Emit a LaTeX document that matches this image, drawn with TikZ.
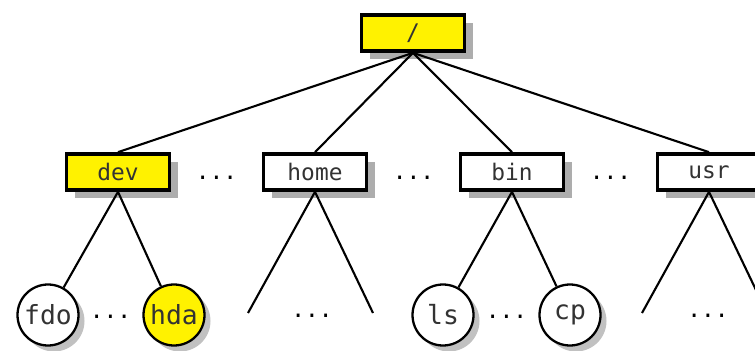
\documentclass[tikz,border=0pt]{standalone}
\usepackage{fontspec}
\setmonofont{DejaVu Sans Mono}
\usetikzlibrary{positioning,shadows}

\begin{document}
\begin{tikzpicture}[node distance = 3.94cm, on grid, font=\ttfamily\fontsize{13}{15}\selectfont,
	dir/.style={draw, line width=2.1pt, minimum width=2.06cm, minimum height=0.72cm, fill=white, text=black!80,
		drop shadow={shadow xshift=0.16cm, shadow yshift=-0.16cm, fill=black!40, opacity=0.8}},
	file/.style={circle, draw, line width=1.3pt, minimum size=1.22cm, inner sep=0pt, fill=white, text=black!80,
		font=\ttfamily\fontsize{15}{17}\selectfont,
		drop shadow={shadow xshift=0.12cm, shadow yshift=-0.12cm, fill=black!35, opacity=0.7}},
	hilite/.style={fill=yellow},
	link/.style={line width=1.2pt},
	more/.style={inner sep=0pt}]
	\useasboundingbox (0,0) rectangle (15.1,-7.02);

	% directories
	\node[dir, hilite] (root) at (8.26,-0.66) {/};
	\node[dir, hilite, below left = 2.78cm and 5.9cm of root] (dev) {dev};
	\node[dir, right of = dev] (home) {home};
	\node[dir, right of = home] (bin) {bin};
	\node[dir, right of = bin] (usr) {usr};

	\node[more, right = 1.97cm of dev, yshift=-0.12cm] (d1) {...};
	\node[more, right = 1.97cm of home, yshift=-0.12cm] (d2) {...};
	\node[more, right = 1.97cm of bin, yshift=-0.12cm] (d3) {...};

	% files
	\node[file, below left = 2.86cm and 1.4cm of dev] (fdo) {fdo};
	\node[file, hilite, below right = 2.86cm and 1.12cm of dev] (hda) {hda};
	\node[file, below left = 2.86cm and 1.38cm of bin] (ls) {ls};
	\node[file, below right = 2.86cm and 1.16cm of bin] (cp) {cp};

	\coordinate[below left = 2.82cm and 1.34cm of home] (homeL);
	\coordinate[below right = 2.82cm and 1.16cm of home] (homeR);
	\coordinate[below left = 2.82cm and 1.34cm of usr] (usrL);
	\coordinate[below right = 2.82cm and 1.16cm of usr] (usrR);

	\node[more, right = 1.25cm of fdo, yshift=-0.04cm] (f1) {...};
	\node[more, below = 2.88cm of home, xshift=-0.06cm] (f2) {...};
	\node[more, right = 1.27cm of ls, yshift=-0.04cm] (f3) {...};
	\node[more, below = 2.88cm of usr, xshift=-0.02cm] (f4) {...};

	\draw[link] (root.south) edge (dev.north)
	(root.south) edge (home.north)
	(root.south) edge (bin.north)
	(root.south) edge (usr.north)
	(dev.south) edge (fdo)
	(dev.south) edge (hda)
	(home.south) edge (homeL)
	(home.south) edge (homeR)
	(bin.south) edge (ls)
	(bin.south) edge (cp)
	(usr.south) edge (usrL)
	(usr.south) edge (usrR);
\end{tikzpicture}
\end{document}
